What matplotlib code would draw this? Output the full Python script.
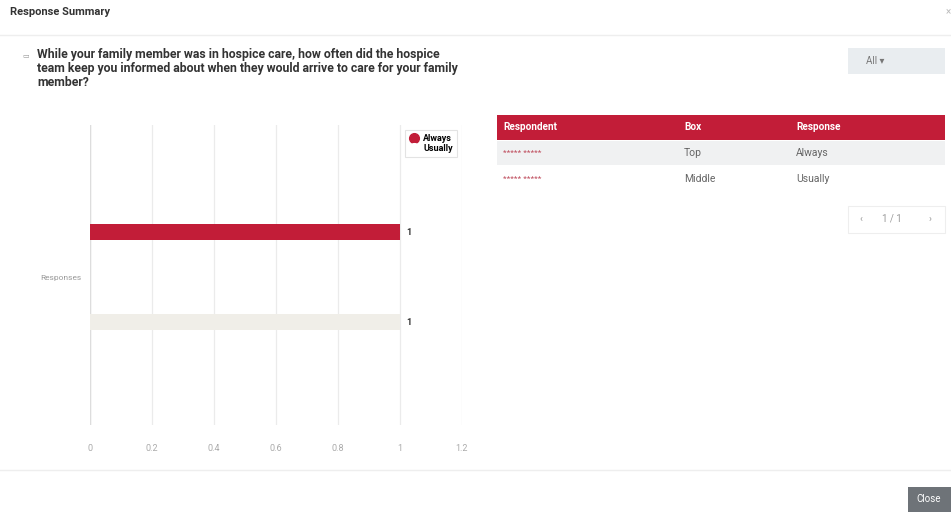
import numpy as np
import matplotlib
matplotlib.use("Agg")
import matplotlib.pyplot as plt
from matplotlib.patches import Rectangle
from matplotlib.lines import Line2D

plt.rcParams['font.family'] = ['Roboto', 'DejaVu Sans']

# chart data
series = ["Always", "Usually"]
counts = [1, 1]
category = "Responses"
x_ticks = [0, 0.2, 0.4, 0.6, 0.8, 1, 1.2]
x_tick_labels = ["0", "0.2", "0.4", "0.6", "0.8", "1", "1.2"]

# table data
table_cols = ["Respondent", "Box", "Response"]
respondents = ["***** *****", "***** *****"]
boxes = ["Top", "Middle"]
responses = ["Always", "Usually"]

question = ("While your family member was in hospice care, how often did the hospice\n"
            "team keep you informed about when they would arrive to care for your family\n"
            "member?")

RED = "#C21D38"
BEIGE = "#F0EEE8"
W, H = 951, 512

fig = plt.figure(figsize=(W / 100, H / 100), dpi=100)
fig.patch.set_facecolor("white")


def fx(px):
    return px / W


def fy(py):
    return 1 - py / H


def rect(x, y, w, h, **kw):
    fig.patches.append(Rectangle((fx(x), fy(y + h)), w / W, h / H,
                                 transform=fig.transFigure, **kw))


# header
fig.text(fx(10), fy(12), "Response Summary", fontsize=8, fontweight="bold",
         color="#333333", va="center")
fig.text(fx(946), fy(12), "×", fontsize=7, color="#bbbbbb", va="center")
fig.add_artist(Line2D([0, 1], [fy(35), fy(35)], color="#eeeeee", lw=1,
                      transform=fig.transFigure))

# question
fig.text(fx(22), fy(56), "▭", fontsize=5, color="#999999", va="center")
fig.text(fx(37), fy(48), question, fontsize=8.8, fontweight="bold",
         color="#333333", va="top", linespacing=1.1)

# "All" dropdown
rect(848, 48, 97, 26, facecolor="#E9EDF0", edgecolor="none")
fig.text(fx(866), fy(61), "All ▾", fontsize=7, color="#777777", va="center")

# chart
ax = fig.add_axes([fx(90), fy(425), (462 - 90) / W, 300 / H])
pos = [-0.143, 0.157]
colors = [RED, BEIGE]
for p, c, v in zip(pos, colors, counts):
    ax.barh(p, v, height=0.053, color=c, edgecolor="none", zorder=3)
    ax.text(v + 0.02, p, str(v), fontsize=6.5, fontweight="bold",
            color="#333333", va="center", ha="left")
ax.set_xlim(0, 1.2)
ax.set_ylim(0.5, -0.5)
ax.set_xticks(x_ticks)
ax.set_xticklabels(x_tick_labels, fontsize=6.5, color="#aaaaaa")
ax.set_yticks([0.007])
ax.set_yticklabels([category], fontsize=6, color="#999999")
ax.tick_params(length=0, pad=14)
ax.tick_params(axis="y", pad=6)
ax.grid(axis="x", color="#ebebeb", lw=0.9, zorder=0)
for s in ax.spines.values():
    s.set_visible(False)
ax.axvline(0, color="#dddddd", lw=1, zorder=2)

handles = [Line2D([], [], marker="o", ls="none", color=RED, markersize=7),
           Line2D([], [], marker="o", ls="none", color="white", markersize=7)]
leg = ax.legend(handles, series, loc="upper right", bbox_to_anchor=(1.0, 1.0),
                frameon=True, handletextpad=0.5,
                borderpad=0.5, labelspacing=0.1, handlelength=1.0,
                fancybox=False, prop={"weight": "bold", "size": 6.5})
leg.get_frame().set_edgecolor("#dddddd")
leg.get_frame().set_linewidth(0.8)

# table
rect(497, 115, 448, 25, facecolor=RED, edgecolor="none")
col_x = [503, 684, 796]
for cx, name in zip(col_x, table_cols):
    fig.text(fx(cx), fy(127), name, fontsize=7.2, fontweight="bold",
             color="white", va="center")
rect(497, 141, 448, 24, facecolor="#F0F1F2", edgecolor="none")
for i, (r, b, resp) in enumerate(zip(respondents, boxes, responses)):
    yy = 153 + i * 26
    fig.text(fx(col_x[0]), fy(yy), r, fontsize=6, color="#c05060", va="center")
    fig.text(fx(col_x[1]), fy(yy), b, fontsize=7.5, color="#666666", va="center")
    fig.text(fx(col_x[2]), fy(yy), resp, fontsize=7.5, color="#666666", va="center")

# pagination
rect(848, 206, 97, 27, facecolor="white", edgecolor="#eeeeee", lw=0.8)
fig.text(fx(859), fy(219), "‹", fontsize=7, color="#999999", va="center")
fig.text(fx(882), fy(219), "1 / 1", fontsize=7, color="#999999", va="center")
fig.text(fx(929), fy(219), "›", fontsize=7, color="#999999", va="center")

# footer
fig.add_artist(Line2D([0, 1], [fy(470), fy(470)], color="#eeeeee", lw=1,
                      transform=fig.transFigure))
rect(908, 487, 43, 25, facecolor="#6E7378", edgecolor="none")
fig.text(fx(929), fy(499), "Close", fontsize=7, color="white",
         va="center", ha="center")

fig.savefig("out.png", dpi=100, facecolor="white")
